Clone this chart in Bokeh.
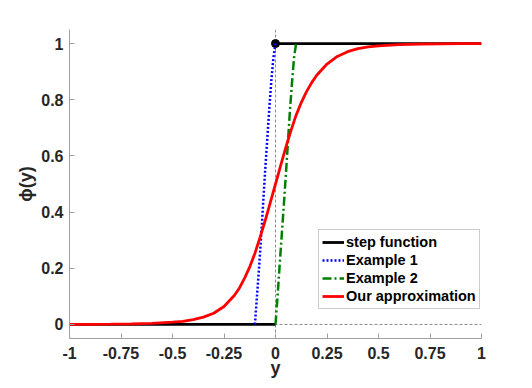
import numpy as np
from bokeh.plotting import figure
from bokeh.models import Range1d, FixedTicker, Span, Legend, LegendItem
from bokeh.embed import file_html
from bokeh.resources import INLINE

# ---- data ----
step_x = [-1.0, 0.0, np.nan, 0.0, 1.0]
step_y = [0.0, 0.0, np.nan, 1.0, 1.0]
step_dot_x = [0.0]
step_dot_y = [1.0]

ex1_x = [-0.1, -0.09, -0.08, -0.07, -0.06, -0.05, -0.04, -0.03, -0.02, -0.01, 0.0]
ex1_y = [0.0, 0.10, 0.20, 0.31, 0.43, 0.55, 0.66, 0.77, 0.87, 0.95, 1.0]

ex2_x = [0.0, 0.01, 0.02, 0.03, 0.04, 0.05, 0.06, 0.07, 0.08, 0.09, 0.1]
ex2_y = [0.0, 0.10, 0.21, 0.315, 0.42, 0.53, 0.645, 0.76, 0.86, 0.95, 1.0]

approx_x = [-1.0, -0.9, -0.8, -0.7, -0.6, -0.5, -0.45, -0.4, -0.35, -0.3, -0.25,
            -0.2, -0.175, -0.15, -0.125, -0.1, -0.075, -0.05, -0.025, 0.0,
            0.025, 0.05, 0.075, 0.1, 0.125, 0.15, 0.175, 0.2, 0.25, 0.3, 0.35,
            0.4, 0.45, 0.5, 0.6, 0.7, 0.8, 0.9, 1.0]
approx_y = [0.0, 0.0005, 0.001, 0.002, 0.004, 0.008, 0.011, 0.017, 0.026, 0.04, 0.064,
            0.103, 0.13, 0.165, 0.205, 0.253, 0.31, 0.37, 0.435, 0.5,
            0.565, 0.63, 0.69, 0.745, 0.79, 0.828, 0.86, 0.887, 0.927, 0.954, 0.971,
            0.982, 0.988, 0.992, 0.996, 0.998, 0.999, 1.0, 1.0]

x_ticks = [-1, -0.75, -0.5, -0.25, 0, 0.25, 0.5, 0.75, 1]
x_tick_labels = ["-1", "-0.75", "-0.5", "-0.25", "0", "0.25", "0.5", "0.75", "1"]
y_ticks = [0, 0.2, 0.4, 0.6, 0.8, 1]
y_tick_labels = ["0", "0.2", "0.4", "0.6", "0.8", "1"]

legend_labels = ["step function", "Example 1", "Example 2", "Our approximation"]

FONT = "Liberation Sans"
AXIS_GRAY = "#a0a0a0"
TEXT_COL = "#262626"

p = figure(width=524, height=380, output_backend="svg", toolbar_location=None,
           x_range=Range1d(-1, 1), y_range=Range1d(-0.05, 1.05),
           min_border_left=69, min_border_right=43, min_border_top=29,
           min_border_bottom=42)
p.outline_line_color = None
p.xgrid.visible = False
p.ygrid.visible = False
p.background_fill_color = "white"
p.border_fill_color = "white"

# reference lines
p.add_layout(Span(location=0, dimension="height", line_color="#8c8c8c",
                  line_width=1, line_dash="3 2", level="underlay"))
p.add_layout(Span(location=0, dimension="width", line_color="#8c8c8c",
                  line_width=1, line_dash="3 2", level="underlay"))

r_step = p.line(step_x, step_y, line_color="black", line_width=2.8)
p.scatter(step_dot_x, step_dot_y, marker="circle", size=8, fill_color="black",
          line_color="black")
r_ex1 = p.line(ex1_x, ex1_y, line_color="#0000ff", line_width=2.5, line_dash="2 2")
r_ex2 = p.line(ex2_x, ex2_y, line_color="#008000", line_width=2.5, line_dash="9 3 2 3")
r_app = p.line(approx_x, approx_y, line_color="#ff0000", line_width=2.8)

for ax in (p.xaxis[0], p.yaxis[0]):
    ax.axis_line_color = AXIS_GRAY
    ax.major_tick_line_color = AXIS_GRAY
    ax.major_tick_in = 5
    ax.major_tick_out = 0
    ax.minor_tick_line_color = None
    ax.major_label_text_font = FONT
    ax.major_label_text_font_style = "bold"
    ax.major_label_text_font_size = "16px"
    ax.major_label_text_color = TEXT_COL
    ax.axis_label_text_font = FONT
    ax.axis_label_text_font_style = "bold"
    ax.axis_label_text_font_size = "18px"
    ax.axis_label_text_color = TEXT_COL

p.xaxis.ticker = FixedTicker(ticks=x_ticks)
p.xaxis.major_label_overrides = {t: l for t, l in zip(x_ticks, x_tick_labels)}
p.xaxis.major_label_standoff = 8
p.xaxis.axis_label = "y"
p.xaxis.axis_label_standoff = -4
p.yaxis.ticker = FixedTicker(ticks=y_ticks)
p.yaxis.major_label_overrides = {t: l for t, l in zip(y_ticks, y_tick_labels)}
p.yaxis.major_label_standoff = 6
p.yaxis.axis_label = "ϕ(y)"
p.yaxis.axis_label_standoff = 2

legend = Legend(items=[LegendItem(label=legend_labels[0], renderers=[r_step]),
                       LegendItem(label=legend_labels[1], renderers=[r_ex1]),
                       LegendItem(label=legend_labels[2], renderers=[r_ex2]),
                       LegendItem(label=legend_labels[3], renderers=[r_app])],
                location=(249, 29), padding=3, spacing=0, margin=0,
                label_standoff=2, glyph_width=22, glyph_height=18,
                label_height=18, label_text_font=FONT,
                label_text_font_style="bold", label_text_font_size="14.5px",
                label_text_color="black", border_line_color="#9a9a9a",
                border_line_width=1, background_fill_color="white",
                background_fill_alpha=1.0)
p.add_layout(legend)

open("out.html", "w").write(file_html(p, INLINE))
